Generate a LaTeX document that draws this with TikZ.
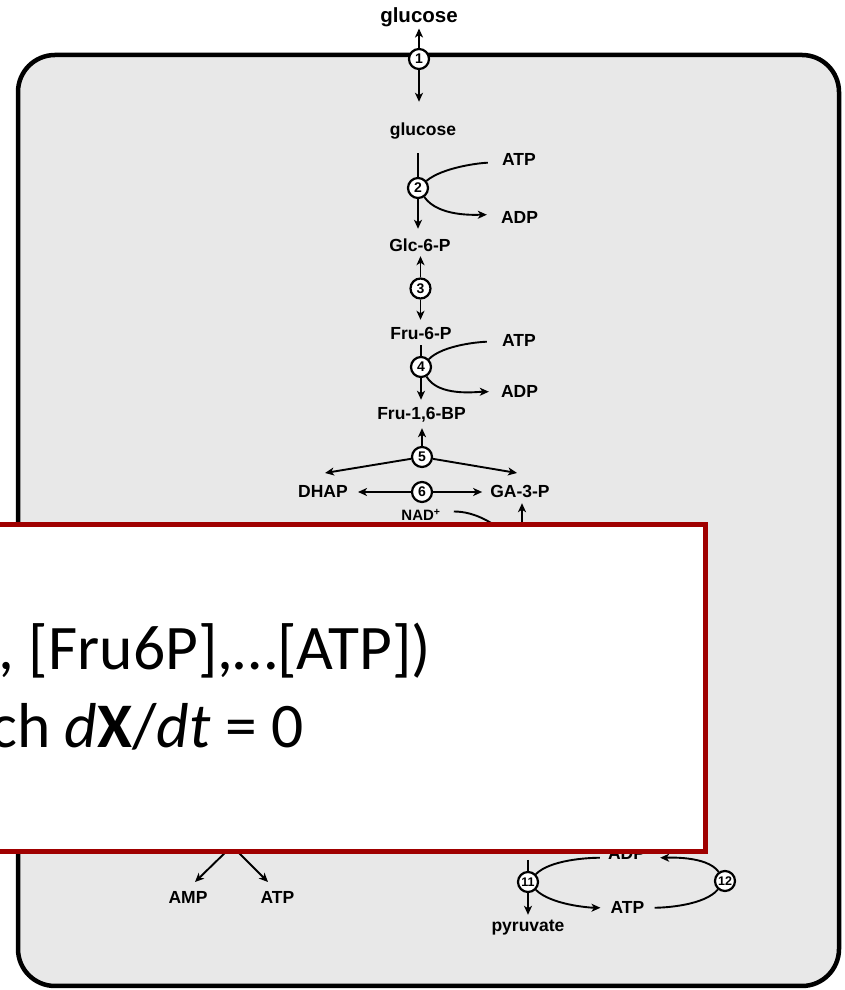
\documentclass[tikz,border=0pt]{standalone}
\usepackage{fontspec}
\setmainfont{Liberation Sans}
\newfontfamily\boxfont{Carlito}
\usetikzlibrary{arrows.meta,calc}
\definecolor{cellfill}{RGB}{232,232,232}
\definecolor{boxred}{RGB}{160,0,0}
\begin{document}
\begin{tikzpicture}[x=1pt,y=1pt,
  lab/.style={font=\fontsize{17.5}{20}\selectfont\bfseries, inner sep=0pt, text height=12.5pt, anchor=base},
  met/.style={lab, text depth=3.5pt},
  cof/.style={lab, text depth=0pt},
  enz/.style={circle, draw, fill=white, line width=2.2pt, minimum size=20pt, inner sep=0pt, font=\fontsize{14}{14}\selectfont\bfseries},
  enzz/.style={enz, font=\fontsize{12.5}{12.5}\selectfont\bfseries},
  link/.style={line width=1.9pt},
  arr/.style={link, -{Stealth[length=9pt,width=8pt,inset=2.5pt]}},
  boxtext/.style={anchor=base west, inner sep=0pt, font=\boxfont\fontsize{63.5}{76}\selectfont},
]
\useasboundingbox (0,0) rectangle (844,990);
% cell compartment
\draw[line width=4.5pt, fill=cellfill, rounded corners=37pt] (18,4) rectangle (839,935);

% metabolites and enzymes
\node[met, font=\fontsize{20.5}{24}\selectfont\bfseries, text height=15pt, text depth=4.3pt] (glcout) at (419,967) {glucose};
\node[enz] (e1) at (419,931) {1};
\node[met] (glcin) at (423,854) {glucose};
\node[enz] (e2) at (418,802) {2};
\node[cof] (atp2) at (519,824) {ATP};
\node[cof] (adp2) at (519.5,766) {ADP};
\node[met] (g6p) at (420,738) {Glc-6-P};
\node[enz] (e3) at (420.5,701.5) {3};
\node[met] (f6p) at (421,650) {Fru-6-P};
\node[enz] (e4) at (421,623) {4};
\node[cof] (atp4) at (519,643) {ATP};
\node[cof] (adp4) at (519.5,592) {ADP};
\node[met] (fbp) at (421.5,570) {Fru-1,6-BP};
\node[enz] (e5) at (422,533) {5};
\node[cof] (dhap) at (323,492.5) {DHAP};
\node[enz] (e6) at (422,498) {6};
\node[cof] (gap) at (520,492.5) {GA-3-P};
\node[cof, font=\fontsize{15}{18}\selectfont\bfseries, text height=11pt] (nad) at (421,469) {NAD\textsuperscript{+}};

\coordinate (t5l) at (325,517);
\coordinate (t5r) at (517,517);
\coordinate (e7) at (522,442);
\coordinate (e8) at (232,144);
\coordinate (t8l) at (195,108);
\coordinate (t8r) at (268,108);
\coordinate (pep) at (528,130);

\node[cof] (amp) at (188,86) {AMP};
\node[cof] (atp8) at (277.5,86) {ATP};
\node[enzz] (e11) at (528,108) {11};
\node[met] (pyr) at (528,58) {pyruvate};
\node[cof] (atp11) at (627.5,76) {ATP};
\node[cof] (adp11) at (626.5,130) {ADP};
\node[enzz] (e12) at (725,109) {12};

% reactions
\draw[arr, shorten >=1pt] (e1) -- (e1 |- glcout.south);
\draw[arr, shorten >=21.5pt] (e1) -- (e1 |- glcin.north);
\draw[link, shorten <=13.5pt] (e2 |- glcin.south) -- (e2);
\draw[arr, shorten >=10.5pt] (e2) -- (e2 |- g6p.north);
\draw[link, shorten <=14pt] ([yshift=-3pt]atp2.west) to[out=180,in=40,looseness=0.7] (e2);
\draw[arr, shorten >=14pt] (e2) to[out=-55,in=180,looseness=0.8] ([yshift=3pt]adp2.west);
\draw[arr, shorten >=0.5pt] (e3) -- (e3 |- g6p.south);
\draw[arr, shorten >=7.5pt] (e3) -- (e3 |- f6p.north);
\draw[link, shorten <=1.5pt] (e4 |- f6p.south) -- (e4);
\draw[arr, shorten >=7.5pt] (e4) -- (e4 |- fbp.north);
\draw[link, shorten <=15pt] ([yshift=-1pt]atp4.west) to[out=180,in=45,looseness=0.7] (e4);
\draw[arr, shorten >=12pt] (e4) to[out=-60,in=180,looseness=0.8] (adp4.west);
\draw[arr, shorten >=4.5pt] (e5) -- (e5 |- fbp.south);
\draw[arr] (e5) -- (t5l);
\draw[arr] (e5) -- (t5r);
\draw[arr, shorten >=10pt] (e6) -- (e6 -| dhap.east);
\draw[arr, shorten >=8pt] (e6) -- (e6 -| gap.west);
\draw[link, shorten <=13pt] ([yshift=4pt]nad.east) to[out=0,in=135] (e7);
\draw[arr, shorten >=5.5pt] (e7) -- (e7 |- gap.south);
\draw[arr] (e8) -- (t8l);
\draw[arr] (e8) -- (t8r);
\draw[link] (pep) -- (e11);
\draw[arr, shorten >=4.5pt] (e11) -- (e11 |- pyr.north);
\draw[link, shorten <=8pt] ([yshift=-4pt]adp11.west) to[out=180,in=45,looseness=0.7] (e11);
\draw[arr, shorten >=10pt] (e11) to[out=-45,in=180,looseness=0.7] (atp11.west);
\draw[link, shorten <=10pt] (atp11.east) to[out=0,in=-130,looseness=0.7] (e12);
\draw[arr, shorten >=15pt] (e12) to[out=125,in=0,looseness=0.7] ([yshift=-4pt]adp11.east);

% overlay panel
\draw[boxred, line width=5pt, fill=white] (-10,138) rectangle (705,465);
\node[boxtext] (l1) at (-1.5,320) {, [Fru6P],…[ATP])};
\node[boxtext] (l2) at (-10,242) {ch \textit{d}\textbf{X}/\textit{dt} = 0};
\end{tikzpicture}
\end{document}
